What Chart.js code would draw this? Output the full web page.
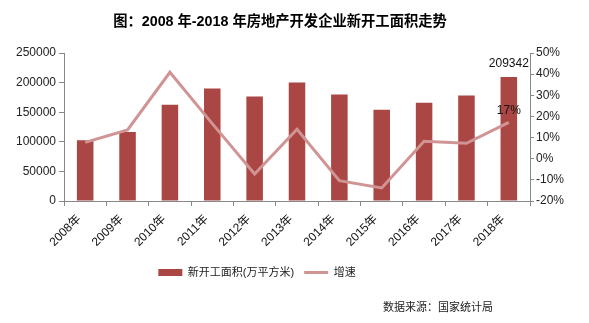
<!DOCTYPE html>
<html><head><meta charset="utf-8">
<script src="https://cdn.jsdelivr.net/npm/chart.js@4/dist/chart.umd.min.js"></script>
<style>html,body{margin:0;padding:0;background:#fff}#wrap{width:589px;height:323px;position:relative}</style>
</head><body><div id="wrap"><canvas id="c" width="589" height="323"></canvas></div>
<script>
const categories = ['2008年','2009年','2010年','2011年','2012年','2013年','2014年','2015年','2016年','2017年','2018年'];
const areaValues = [102700,116400,162700,190000,176400,200300,179800,154100,166100,178100,209342];
const growthValues = [7.7,13.6,40.9,16.6,-7.2,13.9,-10.4,-13.8,8.3,7.3,17.2];
const leftTicks = [0,50000,100000,150000,200000,250000];
const rightTicks = [-20,-10,0,10,20,30,40,50];
const seriesNames = ['新开工面积(万平方米)','增速'];
const titleText = '图：2008 年-2018 年房地产开发企业新开工面积走势';
const sourceText = '数据来源：国家统计局';

const FONT = '"Liberation Sans", "Noto Sans CJK SC", sans-serif';
const BAR = '#AA4643';
const LINE = '#D19494';

const extras = {
  id: 'extras',
  afterLayout(chart) {
    const lg = chart.legend;
    if (lg) { lg.right -= 75; lg.top -= 4; lg.bottom -= 4; }
  },
  afterDatasetsDraw(chart) {
    const ctx = chart.ctx;
    ctx.save();
    ctx.fillStyle = '#111';
    ctx.font = '12px ' + FONT;
    ctx.textAlign = 'center';
    ctx.textBaseline = 'bottom';
    const last = areaValues.length - 1;
    const bar = chart.getDatasetMeta(0).data[last];
    ctx.fillText(String(areaValues[last]), bar.x, bar.y - 7);
    const pt = chart.getDatasetMeta(1).data[last];
    ctx.fillText(Math.round(growthValues[last]) + '%', pt.x, pt.y - 6);
    ctx.restore();
  },
  afterDraw(chart) {
    const ctx = chart.ctx;
    ctx.save();
    ctx.fillStyle = '#000';
    ctx.font = 'bold 14.3px ' + FONT;
    ctx.textAlign = 'center';
    ctx.textBaseline = 'middle';
    ctx.fillText(titleText, 280, 22);
    ctx.font = '11px ' + FONT;
    ctx.textAlign = 'right';
    ctx.fillStyle = '#222';
    ctx.fillText(sourceText, 493, 308);
    ctx.restore();
  }
};

new Chart(document.getElementById('c'), {
  data: {
    labels: categories,
    datasets: [
      { type: 'bar', label: seriesNames[0], data: areaValues, backgroundColor: BAR, borderWidth: 0,
        yAxisID: 'y', order: 1, barPercentage: 0.39, categoryPercentage: 1.0, pointStyle: 'rect' },
      { type: 'line', label: seriesNames[1], data: growthValues, borderColor: LINE, backgroundColor: LINE,
        borderWidth: 3, pointRadius: 0, tension: 0, yAxisID: 'y1', order: 0, pointStyle: 'line' }
    ]
  },
  options: {
    responsive: false,
    animation: false,
    devicePixelRatio: 1,
    layout: { padding: { top: 53, bottom: 31, left: 0, right: 0 } },
    plugins: {
      legend: {
        position: 'bottom',
        labels: {
          usePointStyle: true, pointStyleWidth: 24, boxHeight: 7, padding: 10,
          color: '#222', font: { family: FONT, size: 11 },
          sort: (a, b) => a.datasetIndex - b.datasetIndex
        }
      },
      tooltip: { enabled: false },
      title: { display: false }
    },
    scales: {
      x: {
        grid: { display: true, drawOnChartArea: false, drawTicks: true, tickLength: 5, color: '#888', offset: true },
        border: { color: '#888' },
        ticks: { minRotation: 45, maxRotation: 45, autoSkip: false, padding: 6, labelOffset: -6,
                 color: '#111', font: { family: FONT, size: 12 } },
        afterFit(s) { s.height = 60; }
      },
      y: {
        position: 'left', min: 0, max: 250000,
        afterBuildTicks(s) { s.ticks = leftTicks.map(v => ({ value: v })); },
        grid: { drawOnChartArea: false, tickLength: 5, color: '#888' },
        border: { color: '#888' },
        ticks: { color: '#222', padding: 3, font: { family: FONT, size: 12 }, callback: v => String(v) },
        afterFit(s) { s.width = 64; }
      },
      y1: {
        position: 'right', min: -20, max: 50,
        afterBuildTicks(s) { s.ticks = rightTicks.map(v => ({ value: v })); },
        grid: { drawOnChartArea: false, tickLength: 4, color: '#888' },
        border: { color: '#888' },
        ticks: { color: '#222', padding: 2, font: { family: FONT, size: 12 }, callback: v => v + '%' },
        afterFit(s) { s.width = 59; }
      }
    }
  },
  plugins: [extras]
});
</script>
</body></html>
